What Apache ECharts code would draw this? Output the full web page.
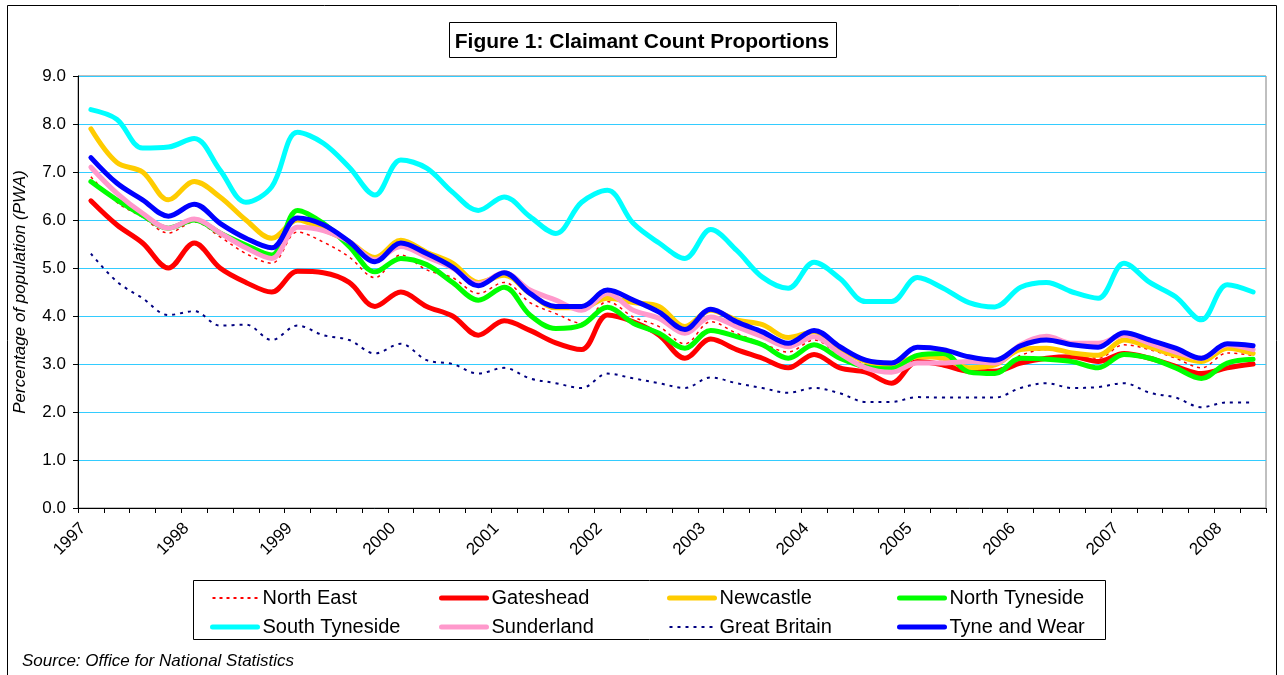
<!DOCTYPE html>
<html>
<head>
<meta charset="utf-8">
<script src="https://cdn.jsdelivr.net/npm/echarts@6/dist/echarts.min.js"></script>
<style>
html,body{margin:0;padding:0;background:#fff;}
#chart{width:1284px;height:675px;}
</style>
</head>
<body>
<div id="chart"></div>
<script>
// Year tick labels (one label per year, first quarter)
const yearLabels = ['1997','1998','1999','2000','2001','2002','2003','2004','2005','2006','2007','2008'];
const quarterNames = ['Q1','Q2','Q3','Q4'];

// Series values (percentage of population, quarterly)
const northEast = [6.9,6.37,6.06,5.73,5.96,5.65,5.3,5.1,5.75,5.54,5.23,4.8,5.27,4.96,4.8,4.47,4.7,4.28,4.05,3.85,4.3,3.98,3.78,3.42,3.88,3.64,3.43,3.25,3.5,3.19,2.98,2.83,3.02,3.05,2.88,2.88,3.18,3.3,3.23,3.12,3.4,3.3,3.12,2.92,3.23,3.18];
const gateshead = [6.4,5.9,5.52,5.0,5.52,5.0,4.7,4.5,4.93,4.9,4.7,4.2,4.5,4.2,4.0,3.6,3.9,3.7,3.44,3.3,4.02,3.88,3.6,3.12,3.52,3.3,3.12,2.92,3.2,2.92,2.83,2.6,3.05,2.98,2.85,2.85,3.02,3.12,3.15,3.05,3.22,3.12,2.95,2.8,2.92,3.0];
const newcastle = [7.9,7.2,7.0,6.42,6.8,6.48,6.0,5.62,6.0,5.8,5.55,5.22,5.58,5.33,5.1,4.7,4.85,4.47,4.17,4.17,4.37,4.28,4.2,3.78,4.12,3.92,3.82,3.55,3.67,3.33,3.05,2.98,3.15,3.12,2.92,2.98,3.3,3.33,3.23,3.18,3.5,3.35,3.18,3.05,3.33,3.22];
const northTyneside = [6.8,6.42,6.1,5.83,6.0,5.73,5.48,5.27,6.2,5.93,5.45,4.92,5.2,5.07,4.7,4.33,4.6,4.02,3.74,3.81,4.18,3.85,3.64,3.33,3.7,3.57,3.4,3.12,3.4,3.12,2.94,2.9,3.18,3.22,2.83,2.8,3.12,3.1,3.05,2.92,3.2,3.12,2.92,2.7,3.02,3.1];
const southTyneside = [8.3,8.1,7.5,7.52,7.7,7.04,6.37,6.69,7.83,7.6,7.1,6.52,7.25,7.08,6.58,6.2,6.48,6.07,5.72,6.37,6.62,5.93,5.52,5.2,5.8,5.37,4.81,4.58,5.12,4.78,4.3,4.3,4.8,4.58,4.28,4.19,4.6,4.7,4.5,4.37,5.1,4.7,4.4,3.92,4.65,4.5];
const sunderland = [7.1,6.56,6.14,5.83,6.02,5.73,5.42,5.2,5.85,5.78,5.55,5.17,5.45,5.23,5.0,4.67,4.9,4.54,4.33,4.12,4.47,4.12,3.95,3.64,3.98,3.78,3.57,3.36,3.57,3.22,2.92,2.83,3.02,3.02,3.05,3.02,3.4,3.58,3.43,3.43,3.6,3.43,3.25,3.12,3.4,3.3];
const greatBritain = [5.3,4.72,4.37,4.02,4.1,3.8,3.82,3.5,3.8,3.6,3.5,3.22,3.42,3.08,3.0,2.8,2.92,2.7,2.6,2.5,2.8,2.7,2.6,2.5,2.72,2.6,2.5,2.4,2.5,2.39,2.21,2.21,2.31,2.3,2.3,2.3,2.5,2.6,2.5,2.52,2.6,2.4,2.3,2.1,2.2,2.2];
const tyneWear = [7.3,6.77,6.42,6.08,6.33,5.93,5.62,5.42,6.04,5.9,5.55,5.13,5.52,5.3,5.02,4.63,4.9,4.47,4.2,4.2,4.54,4.33,4.08,3.72,4.14,3.88,3.67,3.43,3.7,3.36,3.08,3.02,3.35,3.3,3.15,3.08,3.38,3.5,3.4,3.35,3.65,3.5,3.33,3.12,3.42,3.38];

// Category axis: quarters, built from the year labels
const categories = [];
yearLabels.forEach(y => quarterNames.forEach(q => categories.push(y + ' ' + q)));
categories.length = northEast.length;

const FONT = '"Liberation Sans", Arial, sans-serif';
const SMOOTH = 0.35;

function thick(name, data, color) {
  return {name, type:'line', data, smooth:SMOOTH, symbol:'none', showSymbol:false,
    lineStyle:{color, width:5, cap:'round', join:'round'}, itemStyle:{color}, emphasis:{disabled:true}, z:2};
}
function dotted(name, data, color, width, dash) {
  return {name, type:'line', data, smooth:SMOOTH, symbol:'none', showSymbol:false,
    lineStyle:{color, width, type:dash}, itemStyle:{color}, emphasis:{disabled:true}, z:2};
}

const legendCommon = {
  orient:'vertical', top:588, padding:0, itemWidth:45, itemHeight:14, itemGap:9,
  itemStyle:{opacity:0},
  textStyle:{fontFamily:FONT, fontSize:20, color:'#000', lineHeight:20},
  selectedMode:false
};
function item(name, w, type) { return {name, lineStyle:{width:w, type:type || 'solid'}}; }

const chart = echarts.init(document.getElementById('chart'), null, {renderer:'canvas'});
chart.setOption({
  backgroundColor:'#fff',
  animation:false,
  title:{text:'Figure 1: Claimant Count Proportions', left:'center', top:27,
    textStyle:{fontFamily:FONT, fontSize:21, fontWeight:'bold', color:'#000'}},
  grid:{left:78, right:18, top:76, bottom:167, show:true, borderColor:'#808080', borderWidth:1, backgroundColor:'transparent'},
  legend:[
    Object.assign({left:210, data:[item('North East',2,[3,4]), item('South Tyneside',5)]}, legendCommon),
    Object.assign({left:439, data:[item('Gateshead',5), item('Sunderland',5)]}, legendCommon),
    Object.assign({left:667, data:[item('Newcastle',5), item('Great Britain',2,[3,5])]}, legendCommon),
    Object.assign({left:897, data:[item('North Tyneside',5), item('Tyne and Wear',5)]}, legendCommon)
  ],
  xAxis:{type:'category', data:categories, boundaryGap:true,
    axisLine:{show:true, lineStyle:{color:'#000', width:1}},
    axisTick:{show:true, interval:0, length:5, alignWithLabel:false, lineStyle:{color:'#000'}},
    axisLabel:{interval:3, rotate:45, margin:10, padding:[0,11,0,0], fontFamily:FONT, fontSize:17, color:'#000',
      formatter:v => v.slice(0,4)},
    splitLine:{show:false}},
  yAxis:{type:'value', min:0, max:9, interval:1,
    name:'Percentage of population (PWA)', nameLocation:'middle', nameRotate:90, nameGap:49,
    nameTextStyle:{fontFamily:FONT, fontSize:17, fontStyle:'italic', color:'#000'},
    axisLine:{show:true, lineStyle:{color:'#000', width:1}},
    axisTick:{show:true, length:5, lineStyle:{color:'#000'}},
    axisLabel:{margin:12, fontFamily:FONT, fontSize:17, color:'#000', formatter:v => v.toFixed(1)},
    splitLine:{show:true, lineStyle:{color:'#33CCFF', width:1}}},
  graphic:[
    {type:'rect', shape:{x:7.5, y:5.5, width:1269, height:700}, style:{fill:'none', stroke:'#000', lineWidth:1}, silent:true, z:-1},
    {type:'rect', shape:{x:449.5, y:22.5, width:387, height:35}, style:{fill:'none', stroke:'#000', lineWidth:1}, silent:true},
    {type:'rect', shape:{x:193.5, y:580.5, width:912, height:59}, style:{fill:'none', stroke:'#000', lineWidth:1}, silent:true},
    {type:'text', left:22, top:653, style:{text:'Source: Office for National Statistics', fontFamily:FONT, fontSize:17, fontStyle:'italic', fill:'#000'}}
  ],
  series:[
    dotted('North East', northEast, '#FF0000', 1.5, [3,4]),
    thick('Gateshead', gateshead, '#FF0000'),
    thick('Newcastle', newcastle, '#FFCC00'),
    thick('North Tyneside', northTyneside, '#00FF00'),
    thick('South Tyneside', southTyneside, '#00FFFF'),
    thick('Sunderland', sunderland, '#FF99CC'),
    dotted('Great Britain', greatBritain, '#000080', 2, [3,5]),
    thick('Tyne and Wear', tyneWear, '#0000FF')
  ]
});
</script>
</body>
</html>
